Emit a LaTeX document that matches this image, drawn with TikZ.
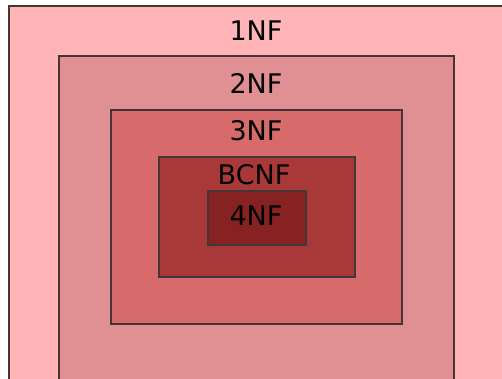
\documentclass[tikz,border=0pt]{standalone}
\usepackage{fontspec}
\setmainfont{DejaVu Sans}
\definecolor{nfA}{HTML}{FFB5B8}
\definecolor{nfB}{HTML}{E09093}
\definecolor{nfC}{HTML}{D76A6A}
\definecolor{nfD}{HTML}{A93838}
\definecolor{nfE}{HTML}{862222}
\definecolor{edge}{HTML}{453535}
\begin{document}
\begin{tikzpicture}[x=1pt,y=-1pt,
  level/.style={draw=edge,line width=2.4pt},
  lbl/.style={inner sep=0pt,font=\fontsize{27}{30}\selectfont,text=black}]
\useasboundingbox (0,0) rectangle (502,379);
% nested normal-form regions, outermost first
\filldraw[level,fill=nfA] (9,6) rectangle (520,400);
\filldraw[level,fill=nfB] (59,56) rectangle (454,385);
\filldraw[level,fill=nfC] (111,110) rectangle (402,324);
\filldraw[level,fill=nfD] (159,157) rectangle (355,277);
\filldraw[level,fill=nfE] (208,191) rectangle (306,245);
% labels
\node[lbl] (l1) at (256,31) {1NF};
\node[lbl] (l2) at (256,83) {2NF};
\node[lbl] (l3) at (256,131) {3NF};
\node[lbl] (l4) at (254,175) {BCNF};
\node[lbl] (l5) at (256,216) {4NF};
\end{tikzpicture}
\end{document}
